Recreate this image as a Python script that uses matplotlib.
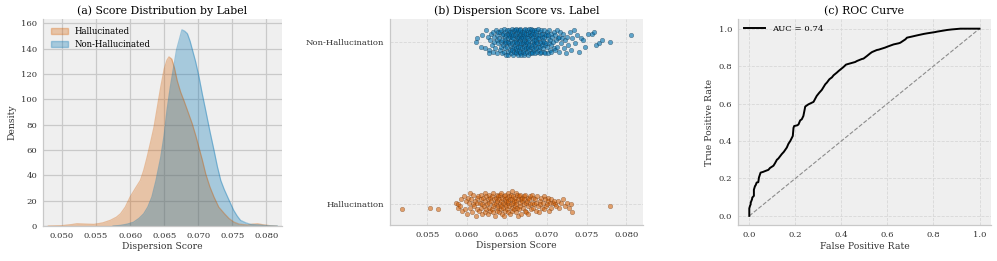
"""
Dispersion score figure: KDE by label, strip plot, ROC curve.
"""

import numpy as np
import matplotlib
matplotlib.use("Agg")
import matplotlib.pyplot as plt
from matplotlib.patches import Patch
from matplotlib.lines import Line2D

# ----------------------------
# Data
# ----------------------------
HALL_COLOR = "#D55E00"
NONHALL_COLOR = "#0072B2"

# (a) KDE curves: dispersion score grid and density
hall_kde_x = [0.0480, 0.0500, 0.0515, 0.0522, 0.0535, 0.0547, 0.0560, 0.0571, 0.0580,
              0.0586, 0.0593, 0.0600, 0.0608, 0.0615, 0.0620, 0.0625, 0.0630, 0.0635,
              0.0640, 0.0645, 0.0650, 0.0654, 0.0657, 0.0661, 0.0665, 0.0669, 0.0674,
              0.0679, 0.0685, 0.0691, 0.0696, 0.0701, 0.0706, 0.0711, 0.0717, 0.0723,
              0.0730, 0.0738, 0.0745, 0.0752, 0.0760, 0.0772, 0.0780, 0.0787, 0.0795,
              0.0805, 0.0815]
hall_kde_y = [0, 0.3, 1.2, 1.8, 1.5, 1.3, 2.5, 4.5, 7, 9.7, 15, 22.9, 30, 36, 44, 54.5,
              66, 78, 94, 110, 124, 131, 133.6, 132, 125, 115, 106, 99, 90, 81, 72, 62,
              52, 41, 31, 23, 15, 10, 6, 3.2, 1.5, 0.8, 1.5, 1.8, 1.0, 0.3, 0]

nonhall_kde_x = [0.0575, 0.0586, 0.0596, 0.0605, 0.0613, 0.0620, 0.0626, 0.0632, 0.0638,
                 0.0645, 0.0650, 0.0654, 0.0659, 0.0664, 0.0668, 0.0672, 0.0676, 0.0680,
                 0.0684, 0.0688, 0.0691, 0.0696, 0.0701, 0.0706, 0.0711, 0.0717, 0.0723,
                 0.0728, 0.0733, 0.0738, 0.0743, 0.0748, 0.0752, 0.0757, 0.0762, 0.0770,
                 0.0777, 0.0790, 0.0801, 0.0816]
nonhall_kde_y = [0, 0.5, 1.5, 3, 6, 9.7, 15, 23, 36, 54.5, 72, 91, 110, 126, 139, 147,
                 155, 154, 152, 146, 140, 130, 118, 104, 91, 75, 60, 47, 36, 29, 23, 17,
                 12.4, 8, 4.5, 2.5, 1.3, 0.8, 0.3, 0]

# (b) strip plot: scores in units of 1e-4, vertical jitter in units of 0.01
hall_scores = [
    518, 553, 563,
    586, 588, 589,
    591, 592, 594,
    596, 597, 599,
    600, 601, 603, 604, 604,
    605, 606, 607, 608, 609,
    610, 611, 612, 613, 613, 614,
    615, 616, 617, 617, 618, 619, 619,
    620, 621, 622, 622, 623, 624, 624,
    625, 626, 626, 627, 628, 628, 629, 629,
    630, 631, 631, 632, 633, 633, 634, 634,
    635, 636, 636, 637, 637, 638, 638, 639, 639,
    640, 640, 641, 641, 642, 642, 643, 643, 644, 644,
    645, 645, 646, 646, 647, 647, 648, 648, 649, 649,
    650, 650, 651, 651, 652, 652, 653, 653, 654, 654,
    655, 655, 656, 656, 657, 657, 658, 658, 659, 659,
    660, 660, 661, 661, 662, 662, 663, 663, 664, 664,
    665, 665, 666, 666, 667, 668, 668, 669, 669,
    670, 671, 671, 672, 673, 673, 674, 674,
    675, 676, 677, 677, 678, 679, 679,
    680, 681, 682, 683, 683, 684,
    685, 686, 687, 688, 689,
    690, 691, 692, 693, 694,
    695, 696, 697, 698, 699,
    700, 701, 702, 703, 704,
    705, 706, 708, 709,
    710, 712, 714,
    716, 718,
    721, 723,
    726, 728,
    731, 732,
    779,
]
hall_jitter = [
    -3, -2, -3,
    1, -2, 0,
    -1, 3, -4,
    5, -3, 2,
    -6, 4, 1, -2, 7,
    3, -5, 0, 6, -1,
    2, -7, 4, -3, 1, 5,
    -4, 1, 6, -2, 3, -6, 0,
    4, -1, 7, -5, 2, -3, 5,
    0, 3, -6, 6, -2, 1, 4, -4,
    2, -3, 5, -1, 7, -5, 3, 0,
    -7, 1, 4, -2, 6, -4, 2, 5, -1,
    3, -5, 0, 6, -3, 2, 7, -1, 4, -6,
    1, -2, 5, -7, 3, 0, 6, -4, 2, -1,
    4, -3, 7, 1, -5, 2, -1, 5, -6, 3,
    0, 6, -2, 3, 8, -4, 1, 5, -3, 2,
    -1, 4, 7, -5, 2, 0, 6, -2, 3, -7,
    5, -3, 1, 6, -1, 3, -6, 2, 4,
    -2, 5, 0, 3, -4, 6, 1, -5,
    2, -1, 4, -6, 3, 0, 5,
    -3, 1, 6, -2, 4, 0,
    3, -4, 1, 5, -1,
    -5, 2, 0, 4, -2,
    1, 5, -3, 3, -1,
    0, 4, 2, -4, 1,
    3, -2, 1, 2,
    0, -1, 2,
    -2, 1,
    3, -1,
    1, -2,
    0, -5,
    -1,
]

nonhall_scores = [
    611, 613, 617, 619,
    622, 624,
    626, 627, 628, 629,
    630, 631, 632, 633, 634, 634,
    635, 636, 637, 637, 638, 639, 639,
    640, 641, 641, 642, 643, 643, 644, 644, 644,
    645, 645, 646, 646, 647, 647, 648, 648, 648, 649, 649, 649,
    650, 650, 651, 651, 651, 652, 652, 653, 653, 653, 654, 654, 654, 654,
    655, 655, 655, 656, 656, 656, 657, 657, 657, 658, 658, 658, 659, 659, 659, 659,
    660, 660, 660, 661, 661, 661, 662, 662, 662, 662, 663, 663, 663, 663, 664, 664, 664, 664,
    665, 665, 665, 665, 666, 666, 666, 666, 667, 667, 667, 667, 668, 668, 668, 668, 669, 669, 669,
    670, 670, 670, 670, 671, 671, 671, 671, 672, 672, 672, 672, 673, 673, 673, 673, 674, 674, 674,
    675, 675, 675, 675, 676, 676, 676, 676, 677, 677, 677, 678, 678, 678, 678, 679, 679, 679,
    680, 680, 680, 681, 681, 681, 682, 682, 682, 682, 683, 683, 683, 684, 684, 684, 684,
    685, 685, 685, 686, 686, 686, 687, 687, 687, 688, 688, 688, 689, 689, 689,
    690, 690, 691, 691, 691, 692, 692, 693, 693, 693, 694, 694, 694,
    695, 695, 696, 696, 697, 697, 698, 698, 698, 699, 699,
    700, 700, 701, 701, 702, 703, 703, 704, 704,
    705, 706, 706, 707, 708, 709, 709,
    710, 711, 712, 713, 713, 714,
    715, 716, 717, 718, 719,
    720, 722, 723, 724,
    726, 727, 729,
    730, 732, 734,
    736, 738,
    741, 743,
    746, 748,
    752,
    757, 760, 762, 766, 769, 779, 806,
]
nonhall_jitter = [
    0, 2, -3, 4,
    -4, 7,
    3, -5, -7, 1,
    5, -2, 6, -6, 0, 3,
    -4, 7, 1, -7, 4, -1, 6,
    2, -5, 6, 0, -3, 7, 4, -7, 1,
    -2, 5, 8, -6, 3, -1, 6, -4, 1, -8, 4, 0,
    7, -3, 2, -6, 5, 0, -8, 4, -1, 7, -5, 3, -2, 6,
    1, -7, 5, 3, -4, 8, -1, 6, -5, 2, -8, 4, 0, 7, -3, -6,
    4, -2, 7, -6, 1, 5, -4, 8, 0, -7, 3, -1, 6, -5, 2, -3, 7, -8,
    0, 6, -5, 3, -2, 8, -7, 1, 4, -3, 7, -6, 2, -1, 5, -8, 3, -4, 6,
    -1, 5, -6, 2, 7, -3, 0, -8, 4, -5, 6, 1, -2, 8, -7, 3, -4, 5, 0,
    3, -6, 7, -1, 2, -4, 6, -8, 0, 5, -3, 8, -5, 1, -2, 4, -7, 6,
    -3, 4, 8, 0, -6, 5, 2, -2, 7, -7, 3, -4, 6, -1, 1, -5, 7,
    5, -2, -7, 3, 0, 7, -4, 6, 1, -6, 4, -1, 2, 8, -3,
    -5, 2, 6, -1, -7, 4, -3, 7, 0, -6, 3, -2, 5,
    1, -4, 7, -6, 3, 0, -2, 5, -7, 4, -1,
    6, -3, 2, -7, 4, -1, 7, -5, 1,
    -2, 5, -6, 3, 0, 6, -4,
    4, -5, 1, 7, -3, 2,
    -6, 3, 6, -1, 2,
    5, -4, 1, -7,
    3, -2, 6,
    -5, 2, 7,
    -1, 4,
    -6, 2,
    1, -3,
    5,
    5, 6, -2, -1, 1, 0, 4,
]

label_names = ["Hallucination", "Non-Hallucination"]

# (c) ROC curve points
roc_fpr = [0.0, 0.0, 0.003, 0.006, 0.006, 0.012, 0.013, 0.020, 0.020, 0.025, 0.027,
           0.032, 0.039, 0.042, 0.049, 0.060, 0.070, 0.083, 0.090, 0.105, 0.112,
           0.120, 0.126, 0.141, 0.150, 0.163, 0.170, 0.178, 0.189, 0.192, 0.195,
           0.209, 0.214, 0.221, 0.228, 0.235, 0.240, 0.243, 0.257, 0.264, 0.279,
           0.293, 0.304, 0.315, 0.330, 0.337, 0.348, 0.359, 0.366, 0.380, 0.388,
           0.409, 0.420, 0.431, 0.460, 0.467, 0.489, 0.496, 0.511, 0.525, 0.533,
           0.554, 0.562, 0.590, 0.600, 0.627, 0.649, 0.656, 0.678, 0.685, 0.707,
           0.728, 0.758, 0.772, 0.808, 0.815, 0.859, 0.880, 0.917, 1.0]
roc_tpr = [0.0, 0.040, 0.053, 0.062, 0.070, 0.089, 0.098, 0.107, 0.140, 0.160, 0.162,
           0.178, 0.180, 0.205, 0.231, 0.235, 0.240, 0.246, 0.256, 0.268, 0.282,
           0.300, 0.306, 0.330, 0.342, 0.365, 0.385, 0.400, 0.427, 0.470, 0.480,
           0.484, 0.489, 0.510, 0.516, 0.534, 0.565, 0.584, 0.596, 0.600, 0.609,
           0.641, 0.658, 0.673, 0.703, 0.712, 0.730, 0.740, 0.751, 0.765, 0.774,
           0.795, 0.808, 0.812, 0.822, 0.827, 0.838, 0.840, 0.854, 0.868, 0.875,
           0.886, 0.888, 0.899, 0.904, 0.916, 0.922, 0.925, 0.943, 0.952, 0.958,
           0.964, 0.972, 0.975, 0.982, 0.984, 0.993, 0.996, 1.0, 1.0]
auc_value = 0.74

# ----------------------------
# Style
# ----------------------------
plt.rcParams.update({
    "font.family": "DejaVu Serif",
    "font.size": 6.1,
    "axes.facecolor": "#efefef",
    "axes.edgecolor": "#c8c8c8",
    "axes.linewidth": 0.9,
    "axes.titlesize": 7.8,
    "axes.labelsize": 6.7,
    "axes.labelcolor": "#333333",
    "xtick.color": "#333333",
    "ytick.color": "#333333",
    "xtick.labelsize": 6.1,
    "ytick.labelsize": 6.1,
    "xtick.major.size": 0,
    "ytick.major.size": 0,
    "xtick.major.pad": 4,
    "ytick.major.pad": 4,
})

fig = plt.figure(figsize=(9.97, 2.61), dpi=100)

ax_a = fig.add_axes([0.043, 0.134, 0.240, 0.792])
ax_b = fig.add_axes([0.391, 0.138, 0.254, 0.788])
ax_c = fig.add_axes([0.740, 0.137, 0.254, 0.789])

for ax in (ax_a, ax_b, ax_c):
    ax.spines["top"].set_visible(False)
    ax.spines["right"].set_visible(False)
    ax.set_axisbelow(True)

# ----------------------------
# (a) KDE by label
# ----------------------------
ax_a.grid(True, color="#c9c9c9", linewidth=0.9)
ax_a.fill_between(hall_kde_x, hall_kde_y, color=HALL_COLOR, alpha=0.3, linewidth=0)
ax_a.plot(hall_kde_x, hall_kde_y, color=HALL_COLOR, alpha=0.35, linewidth=0.9)
ax_a.fill_between(nonhall_kde_x, nonhall_kde_y, color=NONHALL_COLOR, alpha=0.3, linewidth=0)
ax_a.plot(nonhall_kde_x, nonhall_kde_y, color=NONHALL_COLOR, alpha=0.35, linewidth=0.9)
ax_a.set_xlim(0.0472, 0.0823)
ax_a.set_ylim(0, 163.3)
ax_a.set_xticks(np.arange(0.050, 0.0801, 0.005))
ax_a.set_xticklabels([f"{v:.3f}" for v in np.arange(0.050, 0.0801, 0.005)])
ax_a.set_yticks(np.arange(0, 161, 20))
ax_a.set_xlabel("Dispersion Score", labelpad=2)
ax_a.set_ylabel("Density", labelpad=3)
ax_a.set_title("(a) Score Distribution by Label", pad=4)
handles_a = [
    Patch(facecolor=HALL_COLOR, edgecolor=HALL_COLOR, alpha=0.3, label="Hallucinated"),
    Patch(facecolor=NONHALL_COLOR, edgecolor=NONHALL_COLOR, alpha=0.3, label="Non-Hallucinated"),
]
ax_a.legend(handles=handles_a, loc="upper left", frameon=False, fontsize=6.2,
            handlelength=2.0, handleheight=0.7, labelspacing=0.45, borderaxespad=0.5)

# ----------------------------
# (b) strip plot
# ----------------------------
ax_b.grid(True, color="#d8d8d8", linewidth=0.6, linestyle="--")
hx = np.array(hall_scores) / 1e4
hy = 0 + np.array(hall_jitter) / 100
nx = np.array(nonhall_scores) / 1e4
ny = 1 + np.array(nonhall_jitter) / 100
ax_b.scatter(nx, ny, s=11, color=NONHALL_COLOR, alpha=0.6, edgecolor="#1a2a3a",
             linewidth=0.3)
ax_b.scatter(hx, hy, s=11, color=HALL_COLOR, alpha=0.55, edgecolor="#5a3015",
             linewidth=0.3)
ax_b.set_xlim(0.0503, 0.0821)
ax_b.set_ylim(-0.127, 1.138)
ax_b.set_xticks(np.arange(0.055, 0.0801, 0.005))
ax_b.set_xticklabels([f"{v:.3f}" for v in np.arange(0.055, 0.0801, 0.005)])
ax_b.set_yticks([0, 1])
ax_b.set_yticklabels(label_names)
ax_b.set_xlabel("Dispersion Score", labelpad=2)
ax_b.set_title("(b) Dispersion Score vs. Label", pad=4)

# ----------------------------
# (c) ROC curve
# ----------------------------
ax_c.grid(True, color="#d8d8d8", linewidth=0.6, linestyle="--")
ax_c.plot([0, 1], [0, 1], color="#8c8c8c", linestyle="--", linewidth=0.8)
ax_c.plot(roc_fpr, roc_tpr, color="black", linewidth=1.4)
ax_c.set_xlim(-0.05, 1.05)
ax_c.set_ylim(-0.05, 1.05)
ax_c.set_xticks(np.arange(0, 1.01, 0.2))
ax_c.set_yticks(np.arange(0, 1.01, 0.2))
ax_c.set_xlabel("False Positive Rate", labelpad=2)
ax_c.set_ylabel("True Positive Rate", labelpad=3)
ax_c.set_title("(c) ROC Curve", pad=4)
ax_c.legend(handles=[Line2D([], [], color="black", linewidth=1.4,
                            label=f"AUC = {auc_value:.2f}")],
            loc="upper left", frameon=False, fontsize=6.1, handlelength=2.5,
            borderaxespad=0.3)

fig.savefig("out.png", dpi=100)
